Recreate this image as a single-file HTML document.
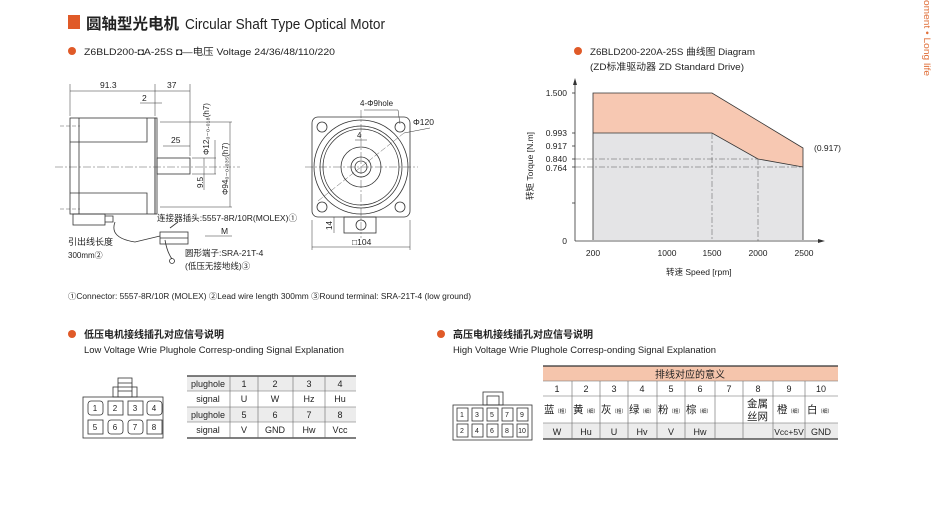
<!DOCTYPE html>
<html><head><meta charset="utf-8"><style>
html,body{margin:0;padding:0;background:#fff}
svg{display:block}
text{font-family:"Liberation Sans","Noto Sans CJK SC",sans-serif;fill:#222}
</style></head><body>
<svg width="950" height="508" viewBox="0 0 950 508" xmlns="http://www.w3.org/2000/svg">
<!-- side vertical text -->
<text transform="translate(924,0) rotate(90)" font-size="9.5" style="fill:#e0703a" x="0" y="0" textLength="76" lengthAdjust="spacingAndGlyphs">oment • Long life</text>

<!-- title -->
<rect x="68" y="15" width="12" height="14" fill="#e05a28"/>
<text x="86" y="29" font-size="15.5" font-weight="bold">圆轴型光电机</text>
<text x="185" y="29" font-size="15" textLength="200" lengthAdjust="spacingAndGlyphs">Circular Shaft Type Optical Motor</text>

<!-- subtitle left -->
<circle cx="72" cy="51" r="4" fill="#e05a28"/>
<text x="84" y="55" font-size="9.5" textLength="251" lengthAdjust="spacingAndGlyphs">Z6BLD200-◘A-25S   ◘—电压 Voltage 24/36/48/110/220</text>

<!-- subtitle right -->
<circle cx="578" cy="51" r="4" fill="#e05a28"/>
<text x="590" y="55" font-size="9.5" textLength="165" lengthAdjust="spacingAndGlyphs">Z6BLD200-220A-25S 曲线图 Diagram</text>
<text x="590" y="70" font-size="9.5" textLength="154" lengthAdjust="spacingAndGlyphs">(ZD标准驱动器 ZD Standard Drive)</text>

<!-- motor side view -->
<g stroke="#333" fill="none" stroke-width="0.8">
<rect x="70" y="118" width="85" height="96" fill="#fff"/>
<line x1="79" y1="118" x2="79" y2="214"/>
<polyline points="70,142 147,142 147,118"/>
<polyline points="70,193 147,193 147,214"/>
<rect x="155" y="118" width="2" height="96"/>
<rect x="157" y="158" width="33" height="16"/>
<rect x="73" y="214" width="32" height="11"/>
<path d="M105,216 h8 v6 h-8"/>
<path d="M115,222 q-6,16 20,20 l25,-6"/>
<rect x="160" y="232" width="28" height="12"/>
<line x1="160" y1="238" x2="188" y2="238"/>
<circle cx="172" cy="261" r="2.5"/>
<path d="M165,240 q2,12 7,19"/>
<path d="M170,228 l8,-6"/>
<line x1="70" y1="84" x2="70" y2="116" stroke-width="0.5"/>
<line x1="155" y1="84" x2="155" y2="116" stroke-width="0.5"/>
<line x1="190" y1="84" x2="190" y2="156" stroke-width="0.5"/>
<line x1="70" y1="91" x2="190" y2="91" stroke-width="0.5"/>
<line x1="140" y1="103" x2="162" y2="103" stroke-width="0.5"/>
<line x1="163" y1="146" x2="190" y2="146" stroke-width="0.5"/>
<line x1="160" y1="122" x2="232" y2="122" stroke-width="0.5"/>
<line x1="160" y1="207" x2="232" y2="207" stroke-width="0.5"/>
<line x1="230" y1="122" x2="230" y2="207" stroke-width="0.5"/>
<line x1="215" y1="140" x2="215" y2="174" stroke-width="0.5"/>
<line x1="204" y1="158" x2="204" y2="190" stroke-width="0.5"/>
<line x1="192" y1="158" x2="216" y2="158" stroke-width="0.5"/>
<line x1="192" y1="174" x2="216" y2="174" stroke-width="0.5"/>
<line x1="55" y1="167" x2="240" y2="167" stroke-width="0.4" stroke-dasharray="8,2,2,2"/>
<line x1="60" y1="126" x2="80" y2="126" stroke-width="0.4" stroke-dasharray="4,2"/>
<line x1="60" y1="209" x2="80" y2="209" stroke-width="0.4" stroke-dasharray="4,2"/>
<line x1="205" y1="236" x2="232" y2="236" stroke-width="0.6"/>
</g>
<g font-size="8.5">
<text x="100" y="88">91.3</text>
<text x="167" y="88">37</text>
<text x="142" y="101">2</text>
<text x="171" y="143">25</text>
<text transform="translate(209,155) rotate(-90)" font-size="8">Φ12₀₋₀.₀₁₈(h7)</text>
<text transform="translate(228,195) rotate(-90)" font-size="8">Φ94₀₋₀.₀₃₅(h7)</text>
<text transform="translate(203,188) rotate(-90)" font-size="8">9.5</text>
<text x="157" y="221" font-size="8.5" textLength="140" lengthAdjust="spacingAndGlyphs">连接器插头:5557-8R/10R(MOLEX)①</text>
<text x="221" y="234">M</text>
<text x="68" y="245" font-size="9">引出线长度</text>
<text x="68" y="258" font-size="8">300mm②</text>
<text x="185" y="256" font-size="8.5">圆形端子:SRA-21T-4</text>
<text x="185" y="269" font-size="8.5">(低压无接地线)③</text>
</g>

<!-- front view -->
<g stroke="#333" fill="none" stroke-width="0.8">
<rect x="312" y="117" width="98" height="100" rx="6" fill="#fff"/>
<circle cx="361" cy="167" r="47"/>
<circle cx="361" cy="167" r="41"/>
<circle cx="361" cy="167" r="38"/>
<circle cx="361" cy="167" r="20"/>
<circle cx="361" cy="167" r="10"/>
<circle cx="361" cy="167" r="6"/>
<circle cx="322" cy="127" r="5"/><circle cx="400" cy="127" r="5"/>
<circle cx="322" cy="207" r="5"/><circle cx="400" cy="207" r="5"/>
<rect x="344" y="217" width="32" height="16"/>
<circle cx="361" cy="225" r="5"/>
<line x1="305" y1="167" x2="418" y2="167" stroke-width="0.4" stroke-dasharray="8,2,2,2"/>
<line x1="361" y1="110" x2="361" y2="238" stroke-width="0.4" stroke-dasharray="8,2,2,2"/>
<line x1="318" y1="201" x2="404" y2="133" stroke-width="0.4" stroke-dasharray="6,2"/>
<line x1="312" y1="220" x2="312" y2="250" stroke-width="0.5"/>
<line x1="410" y1="220" x2="410" y2="250" stroke-width="0.5"/>
<line x1="312" y1="247" x2="410" y2="247" stroke-width="0.5"/>
<line x1="334" y1="217" x2="334" y2="233" stroke-width="0.5"/>
<line x1="355" y1="140" x2="367" y2="140" stroke-width="0.5"/>
<line x1="364" y1="110" x2="398" y2="110" stroke-width="0.5"/>
<line x1="398" y1="110" x2="400" y2="124" stroke-width="0.5"/>
<line x1="404" y1="133" x2="430" y2="128" stroke-width="0.5"/>
</g>
<g font-size="8.5">
<text x="360" y="106" font-size="8">4-Φ9hole</text>
<text x="413" y="125" font-size="8.5">Φ120</text>
<text x="357" y="138" font-size="8">4</text>
<text x="352" y="245">□104</text>
<text transform="translate(332,230) rotate(-90)" font-size="8">14</text>
</g>

<text x="68" y="299" font-size="8" textLength="403" lengthAdjust="spacingAndGlyphs">①Connector: 5557-8R/10R (MOLEX)  ②Lead wire length 300mm  ③Round terminal: SRA-21T-4 (low ground)</text>

<!-- chart -->
<polygon points="593,133 712,133 758,159 803,167 803,240 593,240" fill="#e4e4e6"/>
<polygon points="593,93 712,93 803,148 803,167 758,159 712,133 593,133" fill="#f7c8b2"/>
<g stroke="#333" fill="none" stroke-width="0.8">
<polyline points="593,240 593,93 712,93 803,148 803,240"/>
<polyline points="593,133 712,133 758,159 803,167"/>
</g>
<g stroke="#555" stroke-width="0.5" stroke-dasharray="6,2,2,2" fill="none">
<line x1="575" y1="159" x2="758" y2="159"/>
<line x1="575" y1="167" x2="803" y2="167"/>
<line x1="712" y1="133" x2="712" y2="241"/>
<line x1="758" y1="159" x2="758" y2="241"/>
</g>
<g stroke="#333" stroke-width="0.8">
<line x1="575" y1="241" x2="822" y2="241"/>
<line x1="575" y1="241" x2="575" y2="80"/>
<line x1="572" y1="93" x2="575" y2="93"/><line x1="572" y1="133" x2="575" y2="133"/>
<line x1="572" y1="146" x2="575" y2="146"/><line x1="572" y1="159" x2="575" y2="159"/>
<line x1="572" y1="167" x2="575" y2="167"/><line x1="572" y1="203" x2="575" y2="203"/>
</g>
<polygon points="575,78 573,85 577,85" fill="#333"/>
<polygon points="825,241 818,239 818,243" fill="#333"/>
<g font-size="8.5">
<text x="567" y="96" text-anchor="end">1.500</text>
<text x="567" y="136" text-anchor="end">0.993</text>
<text x="567" y="149" text-anchor="end">0.917</text>
<text x="567" y="162" text-anchor="end">0.840</text>
<text x="567" y="171" text-anchor="end">0.764</text>
<text x="567" y="244" text-anchor="end">0</text>
<text x="593" y="256" text-anchor="middle">200</text>
<text x="667" y="256" text-anchor="middle">1000</text>
<text x="712" y="256" text-anchor="middle">1500</text>
<text x="758" y="256" text-anchor="middle">2000</text>
<text x="804" y="256" text-anchor="middle">2500</text>
<text x="814" y="151">(0.917)</text>
<text x="666" y="275" font-size="8.5">转速 Speed [rpm]</text>
<text transform="translate(533,200) rotate(-90)" font-size="8.5">转矩 Torque [N.m]</text>
</g>

<!-- section headers -->
<circle cx="72" cy="334" r="4" fill="#e05a28"/>
<text x="84" y="338" font-size="10" font-weight="bold">低压电机接线插孔对应信号说明</text>
<text x="84" y="353" font-size="9.5" textLength="260" lengthAdjust="spacingAndGlyphs">Low Voltage  Wrie Plughole Corresp-onding Signal Explanation</text>
<circle cx="441" cy="334" r="4" fill="#e05a28"/>
<text x="453" y="338" font-size="10" font-weight="bold">高压电机接线插孔对应信号说明</text>
<text x="453" y="353" font-size="9.5" textLength="263" lengthAdjust="spacingAndGlyphs">High Voltage  Wrie Plughole Corresp-onding Signal Explanation</text>

<!-- left connector -->
<g stroke="#333" fill="none" stroke-width="0.8">
<rect x="83" y="397" width="80" height="41"/>
<rect x="113" y="387" width="24" height="10"/>
<rect x="118" y="378" width="14" height="19"/>
<line x1="118" y1="383" x2="132" y2="383"/><line x1="118" y1="391" x2="132" y2="391"/>
<rect x="88" y="401" width="15" height="14" rx="3"/><rect x="108" y="401" width="15" height="14"/>
<rect x="128" y="401" width="15" height="14"/><rect x="147" y="401" width="15" height="14" rx="3"/>
<rect x="88" y="420" width="15" height="14"/><rect x="108" y="420" width="15" height="14" rx="3"/>
<rect x="128" y="420" width="15" height="14" rx="3"/><rect x="147" y="420" width="15" height="14"/>
</g>
<g font-size="8" text-anchor="middle">
<text x="95" y="411">1</text><text x="115" y="411">2</text><text x="135" y="411">3</text><text x="154" y="411">4</text>
<text x="95" y="430">5</text><text x="115" y="430">6</text><text x="135" y="430">7</text><text x="154" y="430">8</text>
</g>

<!-- left table -->
<rect x="187" y="376" width="169" height="15" fill="#ececec"/>
<rect x="187" y="407" width="169" height="15" fill="#ececec"/>
<g stroke="#666" stroke-width="0.6">
<line x1="187" y1="376" x2="356" y2="376" stroke="#333" stroke-width="1.2"/>
<line x1="187" y1="391" x2="356" y2="391"/><line x1="187" y1="407" x2="356" y2="407"/>
<line x1="187" y1="422" x2="356" y2="422"/>
<line x1="187" y1="438" x2="356" y2="438" stroke="#333" stroke-width="1.2"/>
<line x1="230" y1="376" x2="230" y2="438"/><line x1="258" y1="376" x2="258" y2="438"/>
<line x1="293" y1="376" x2="293" y2="438"/><line x1="325" y1="376" x2="325" y2="438"/>
</g>
<g font-size="9" text-anchor="middle">
<text x="208" y="387">plughole</text><text x="244" y="387">1</text><text x="275" y="387">2</text><text x="309" y="387">3</text><text x="340" y="387">4</text>
<text x="208" y="402">signal</text><text x="244" y="402">U</text><text x="275" y="402">W</text><text x="309" y="402">Hz</text><text x="340" y="402">Hu</text>
<text x="208" y="418">plughole</text><text x="244" y="418">5</text><text x="275" y="418">6</text><text x="309" y="418">7</text><text x="340" y="418">8</text>
<text x="208" y="433">signal</text><text x="244" y="433">V</text><text x="275" y="433">GND</text><text x="309" y="433">Hw</text><text x="340" y="433">Vcc</text>
</g>

<!-- right connector -->
<g stroke="#333" fill="none" stroke-width="0.8">
<rect x="453" y="405" width="79" height="35"/>
<rect x="483" y="392" width="20" height="13"/>
<rect x="487" y="396" width="12" height="9"/>
<rect x="457" y="408" width="11" height="13"/><rect x="472" y="408" width="11" height="13"/>
<rect x="487" y="408" width="11" height="13"/><rect x="502" y="408" width="11" height="13"/><rect x="517" y="408" width="11" height="13"/>
<rect x="457" y="424" width="11" height="13"/><rect x="472" y="424" width="11" height="13"/>
<rect x="487" y="424" width="11" height="13"/><rect x="502" y="424" width="11" height="13"/><rect x="517" y="424" width="11" height="13"/>
</g>
<g font-size="7" text-anchor="middle">
<text x="462" y="417">1</text><text x="477" y="417">3</text><text x="492" y="417">5</text><text x="507" y="417">7</text><text x="522" y="417">9</text>
<text x="462" y="433">2</text><text x="477" y="433">4</text><text x="492" y="433">6</text><text x="507" y="433">8</text><text x="522" y="433">10</text>
</g>

<!-- right table -->
<rect x="543" y="366" width="295" height="15" fill="#f5c5ac"/>
<rect x="543" y="423" width="295" height="16" fill="#ececec"/>
<g stroke="#666" stroke-width="0.6">
<line x1="543" y1="366" x2="838" y2="366" stroke="#333" stroke-width="1.2"/>
<line x1="543" y1="381" x2="838" y2="381"/><line x1="543" y1="396" x2="838" y2="396"/>
<line x1="543" y1="423" x2="838" y2="423"/>
<line x1="543" y1="439" x2="838" y2="439" stroke="#333" stroke-width="1.2"/>
<line x1="572" y1="381" x2="572" y2="439"/><line x1="600" y1="381" x2="600" y2="439"/>
<line x1="628" y1="381" x2="628" y2="439"/><line x1="657" y1="381" x2="657" y2="439"/>
<line x1="685" y1="381" x2="685" y2="439"/><line x1="715" y1="381" x2="715" y2="439"/>
<line x1="743" y1="381" x2="743" y2="439"/><line x1="773" y1="381" x2="773" y2="439"/>
<line x1="805" y1="381" x2="805" y2="439"/>
</g>
<text x="690" y="378" font-size="10" text-anchor="middle">排线对应的意义</text>
<g font-size="9" text-anchor="middle">
<text x="557" y="392">1</text><text x="586" y="392">2</text><text x="614" y="392">3</text><text x="642" y="392">4</text><text x="671" y="392">5</text>
<text x="700" y="392">6</text><text x="729" y="392">7</text><text x="758" y="392">8</text><text x="789" y="392">9</text><text x="821" y="392">10</text>
<text x="557" y="435">W</text><text x="586" y="435">Hu</text><text x="614" y="435">U</text><text x="642" y="435">Hv</text><text x="671" y="435">V</text>
<text x="700" y="435">Hw</text><text x="789" y="435" font-size="8.5">Vcc+5V</text><text x="821" y="435">GND</text>
</g>
<g font-size="10.5">
<text x="544" y="413">蓝<tspan font-size="5">（粗）</tspan></text>
<text x="573" y="413">黄<tspan font-size="5">（细）</tspan></text>
<text x="601" y="413">灰<tspan font-size="5">（粗）</tspan></text>
<text x="629" y="413">绿<tspan font-size="5">（细）</tspan></text>
<text x="658" y="413">粉<tspan font-size="5">（粗）</tspan></text>
<text x="686" y="413">棕<tspan font-size="5">（细）</tspan></text>
<text x="747" y="407">金属</text>
<text x="747" y="420">丝网</text>
<text x="777" y="413">橙<tspan font-size="5">（细）</tspan></text>
<text x="807" y="413">白<tspan font-size="5">（细）</tspan></text>
</g>
</svg>
</body></html>
